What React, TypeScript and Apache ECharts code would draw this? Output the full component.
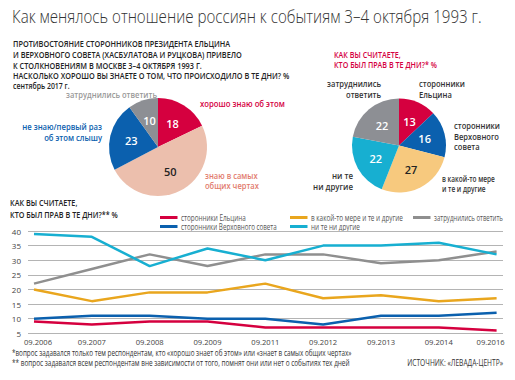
import React, { useEffect, useRef } from "react";
import * as echarts from "echarts";

const years = ["09.2006", "09.2007", "09.2008", "09.2009", "09.2011", "09.2012", "09.2013", "09.2014", "09.2016"];
const yeltsin = [9, 8, 9, 9, 7, 7, 7, 7, 6];
const soviet = [10, 11, 11, 10, 10, 8, 11, 11, 12];
const both = [20, 16, 19, 19, 22, 17, 18, 16, 17];
const unsure = [22, 27, 32, 28, 32, 32, 29, 30, 33];
const neither = [39, 38, 28, 34, 30, 35, 35, 36, 32];

const knowNames = ["хорошо знаю об этом", "знаю в самых общих чертах", "не знаю/первый раз об этом слышу", "затруднились ответить"];
const knowValues = [18, 50, 23, 10];
const rightNames = ["сторонники Ельцина", "сторонники Верховного совета", "в какой-то мере и те и другие", "ни те ни другие", "затруднились ответить"];
const rightValues = [13, 16, 27, 22, 22];
const lineNames = ["сторонники Ельцина", "сторонники Верховного совета", "в какой-то мере и те и другие", "затруднились ответить", "ни те ни другие"];
const yTicks = { min: 5, max: 40, interval: 5 };

const RED = "#d5003f";
const BLUE = "#0b60ae";
const SALMON = "#ecbfad";
const GRAY = "#8d8f94";
const YELLOW_PIE = "#f7c97e";
const CYAN = "#17afd1";
const YELLOW_LINE = "#e9a61e";
const GRAY_LINE = "#8f8f8f";
const FONT = "'Open Sans', 'Noto Sans', sans-serif";

let measureCtx: CanvasRenderingContext2D | null = null;
function measure(text: string, font: string) {
  if (!measureCtx) measureCtx = document.createElement("canvas").getContext("2d");
  if (!measureCtx) return 0;
  measureCtx.font = font;
  return Math.max(...text.split("\n").map((l) => measureCtx!.measureText(l).width));
}

function fontOf(size: number, weight: any) {
  return `${weight || "normal"} ${size}px ${FONT}`;
}

function scaleFor(text: string, size: number, weight: any, width: number) {
  const w = measure(text, fontOf(size, weight));
  return w > 0 ? width / w : 1;
}

function txt(x: number, y: number, text: string, size: number, fill: string, width: number, opts: any = {}) {
  const font = fontOf(size, opts.weight);
  const sx = opts.sx || scaleFor(text, size, opts.weight, width);
  return {
    type: "text",
    x,
    y,
    scaleX: sx,
    silent: true,
    style: {
      text,
      fill,
      font,
      textAlign: opts.align || "left",
      textVerticalAlign: "middle",
      lineHeight: opts.lh || size + 2,
    },
  };
}

export default function App() {
  const ref = useRef<HTMLDivElement>(null);
  useEffect(() => {
    if (!ref.current) return;
    const chart = echarts.init(ref.current, null, { renderer: "svg" });
    const lineColors = [RED, BLUE, YELLOW_LINE, GRAY_LINE, CYAN];
    const lineData = [yeltsin, soviet, both, unsure, neither];
    const legendPos = [
      [160, 217.5, 65],
      [160, 226.5, 96],
      [290, 217.5, 92],
      [413, 217.5, 69],
      [290, 226.5, 49],
    ];
    const legendEls: any[] = [];
    lineNames.forEach((n, i) => {
      const [lx, ly, lw] = legendPos[i];
      legendEls.push({ type: "rect", silent: true, shape: { x: lx, y: ly - 1.5, width: 17.5, height: 3 }, style: { fill: lineColors[i] } });
      legendEls.push(txt(lx + 21, ly, n, 8.5, "#555", lw));
    });
    const sub4 = "НАСКОЛЬКО ХОРОШО ВЫ ЗНАЕТЕ О ТОМ, ЧТО ПРОИСХОДИЛО В ТЕ ДНИ? %";
    const subSx = scaleFor(sub4, 9, 600, 277);
    const option: any = {
      animation: false,
      textStyle: { fontFamily: FONT },
      grid: [
        { left: 28, right: 12, top: 231, bottom: 46.7 },
        { left: 34, right: 18.4, top: 231, bottom: 46.7 },
      ],
      xAxis: [
        { gridIndex: 0, type: "category", data: years, show: false, boundaryGap: false },
        {
          gridIndex: 1,
          type: "category",
          data: years,
          boundaryGap: false,
          axisLine: { show: false },
          axisTick: { show: false },
          axisLabel: {
            fontSize: 7.6,
            color: "#444",
            margin: 5,
            formatter: (v: string, i: number) => (i === 0 ? `{a|${v}}` : i === years.length - 1 ? `{b|${v}}` : v),
            rich: {
              a: { fontSize: 7.6, color: "#444", padding: [0, 0, 0, 8] },
              b: { fontSize: 7.6, color: "#444", padding: [0, 12, 0, 0] },
            },
          },
        },
      ],
      yAxis: [
        {
          gridIndex: 0,
          type: "value",
          min: yTicks.min,
          max: yTicks.max,
          interval: yTicks.interval,
          axisLine: { show: false },
          axisTick: { show: false },
          axisLabel: { fontSize: 8, color: "#444", margin: 7 },
          splitLine: { lineStyle: { color: "#b4b4b4", width: 1 } },
        },
        { gridIndex: 1, type: "value", min: yTicks.min, max: yTicks.max, interval: yTicks.interval, show: false, splitLine: { show: false } },
      ],
      series: [
        ...lineNames.map((n, i) => ({
          type: "line",
          name: n,
          xAxisIndex: 1,
          yAxisIndex: 1,
          data: lineData[i],
          showSymbol: false,
          symbol: "none",
          color: lineColors[i],
          lineStyle: { width: 2.5, color: lineColors[i] },
          z: [3, 3, 3, 4, 5][i],
        })),
        {
          type: "pie",
          center: [158, 147],
          radius: [0, 49],
          startAngle: 90,
          clockwise: true,
          silent: true,
          label: { position: "inside", formatter: "{c}", fontSize: 11, fontFamily: FONT, fontWeight: 600 },
          labelLine: { show: false },
          data: knowNames.map((n, i) => ({
            name: n,
            value: knowValues[i],
            itemStyle: { color: [RED, SALMON, BLUE, GRAY][i] },
            label: { color: i === 1 ? "#222" : "#fff" },
          })),
        },
        {
          type: "pie",
          center: [399, 145.5],
          radius: [0, 47],
          startAngle: 90,
          clockwise: true,
          silent: true,
          label: { position: "inside", formatter: "{c}", fontSize: 11, fontFamily: FONT, fontWeight: 600 },
          labelLine: { show: false },
          data: rightNames.map((n, i) => ({
            name: "r" + n,
            value: rightValues[i],
            itemStyle: { color: [RED, BLUE, YELLOW_PIE, CYAN, GRAY][i] },
            label: { color: i === 2 ? "#222" : "#fff" },
          })),
        },
      ],
      graphic: [
        txt(12, 17, "Как менялось отношение россиян к событиям 3–4 октября 1993 г.", 17.5, "#333", 470, { weight: 300 }),
        txt(13, 43.5, "ПРОТИВОСТОЯНИЕ СТОРОННИКОВ ПРЕЗИДЕНТА ЕЛЬЦИНА", 9, "#222", 0, { weight: 600, sx: subSx }),
        txt(13, 54.2, "И ВЕРХОВНОГО СОВЕТА (ХАСБУЛАТОВА И РУЦКОВА) ПРИВЕЛО", 9, "#222", 0, { weight: 600, sx: subSx }),
        txt(13, 64.9, "К СТОЛКНОВЕНИЯМ В МОСКВЕ 3–4 ОКТЯБРЯ 1993 Г.", 9, "#222", 0, { weight: 600, sx: subSx }),
        txt(13, 75.6, sub4, 9, "#222", 0, { weight: 600, sx: subSx }),
        txt(13, 86, "сентябрь 2017 г.", 8.5, "#222", 0, { weight: 600, sx: subSx }),
        txt(66, 94, "затруднились ответить", 9, "#999", 91, { weight: 600 }),
        txt(200, 104, "хорошо знаю об этом", 9.5, RED, 85, { weight: 600 }),
        txt(102, 132, "не знаю/первый раз\nоб этом слышу", 9.5, BLUE, 80, { align: "right", lh: 10.5, weight: 600 }),
        txt(205, 180.5, "знаю в самых\nобщих чертах", 9.5, "#e27b6d", 54, { lh: 9.5, weight: 600 }),
        txt(334, 59, "КАК ВЫ СЧИТАЕТЕ,\nКТО БЫЛ ПРАВ В ТЕ ДНИ?* %", 9, RED, 103, { weight: 600, lh: 9.5 }),
        txt(381, 88.8, "затруднились\nответить", 9.5, "#333", 54, { align: "right", weight: 600, lh: 11 }),
        txt(419, 88.8, "сторонники\nЕльцина", 9.5, "#333", 46, { weight: 600, lh: 11 }),
        txt(454, 136.5, "сторонники\nВерховного\nсовета", 9.5, "#333", 46, { weight: 600, lh: 10.4 }),
        txt(442, 183, "в какой-то мере\nи те и другие", 9.5, "#333", 53, { weight: 600, lh: 9.6 }),
        txt(353, 181.5, "ни те\nни другие", 9.5, "#333", 40, { align: "right", weight: 600, lh: 10.7 }),
        txt(10, 208, "КАК ВЫ СЧИТАЕТЕ,\nКТО БЫЛ ПРАВ В ТЕ ДНИ?** %", 9, "#222", 108, { weight: 600, lh: 12 }),
        ...legendEls,
        txt(12, 353, "*вопрос задавался только тем респондентам, кто «хорошо знает об этом» или «знает в самых общих чертах»", 8.5, "#333", 340),
        txt(12, 363, "** вопрос задавался всем респондентам вне зависимости от того, помнят они или нет о событиях тех дней", 8.5, "#333", 338),
        txt(503, 363, "ИСТОЧНИК: «ЛЕВАДА-ЦЕНТР»", 8.5, "#333", 96, { align: "right" }),
      ],
    };
    chart.setOption(option);
    return () => chart.dispose();
  }, []);
  return <div ref={ref} style={{ width: 515, height: 380, position: "absolute", left: 0, top: 0 }} />;
}
